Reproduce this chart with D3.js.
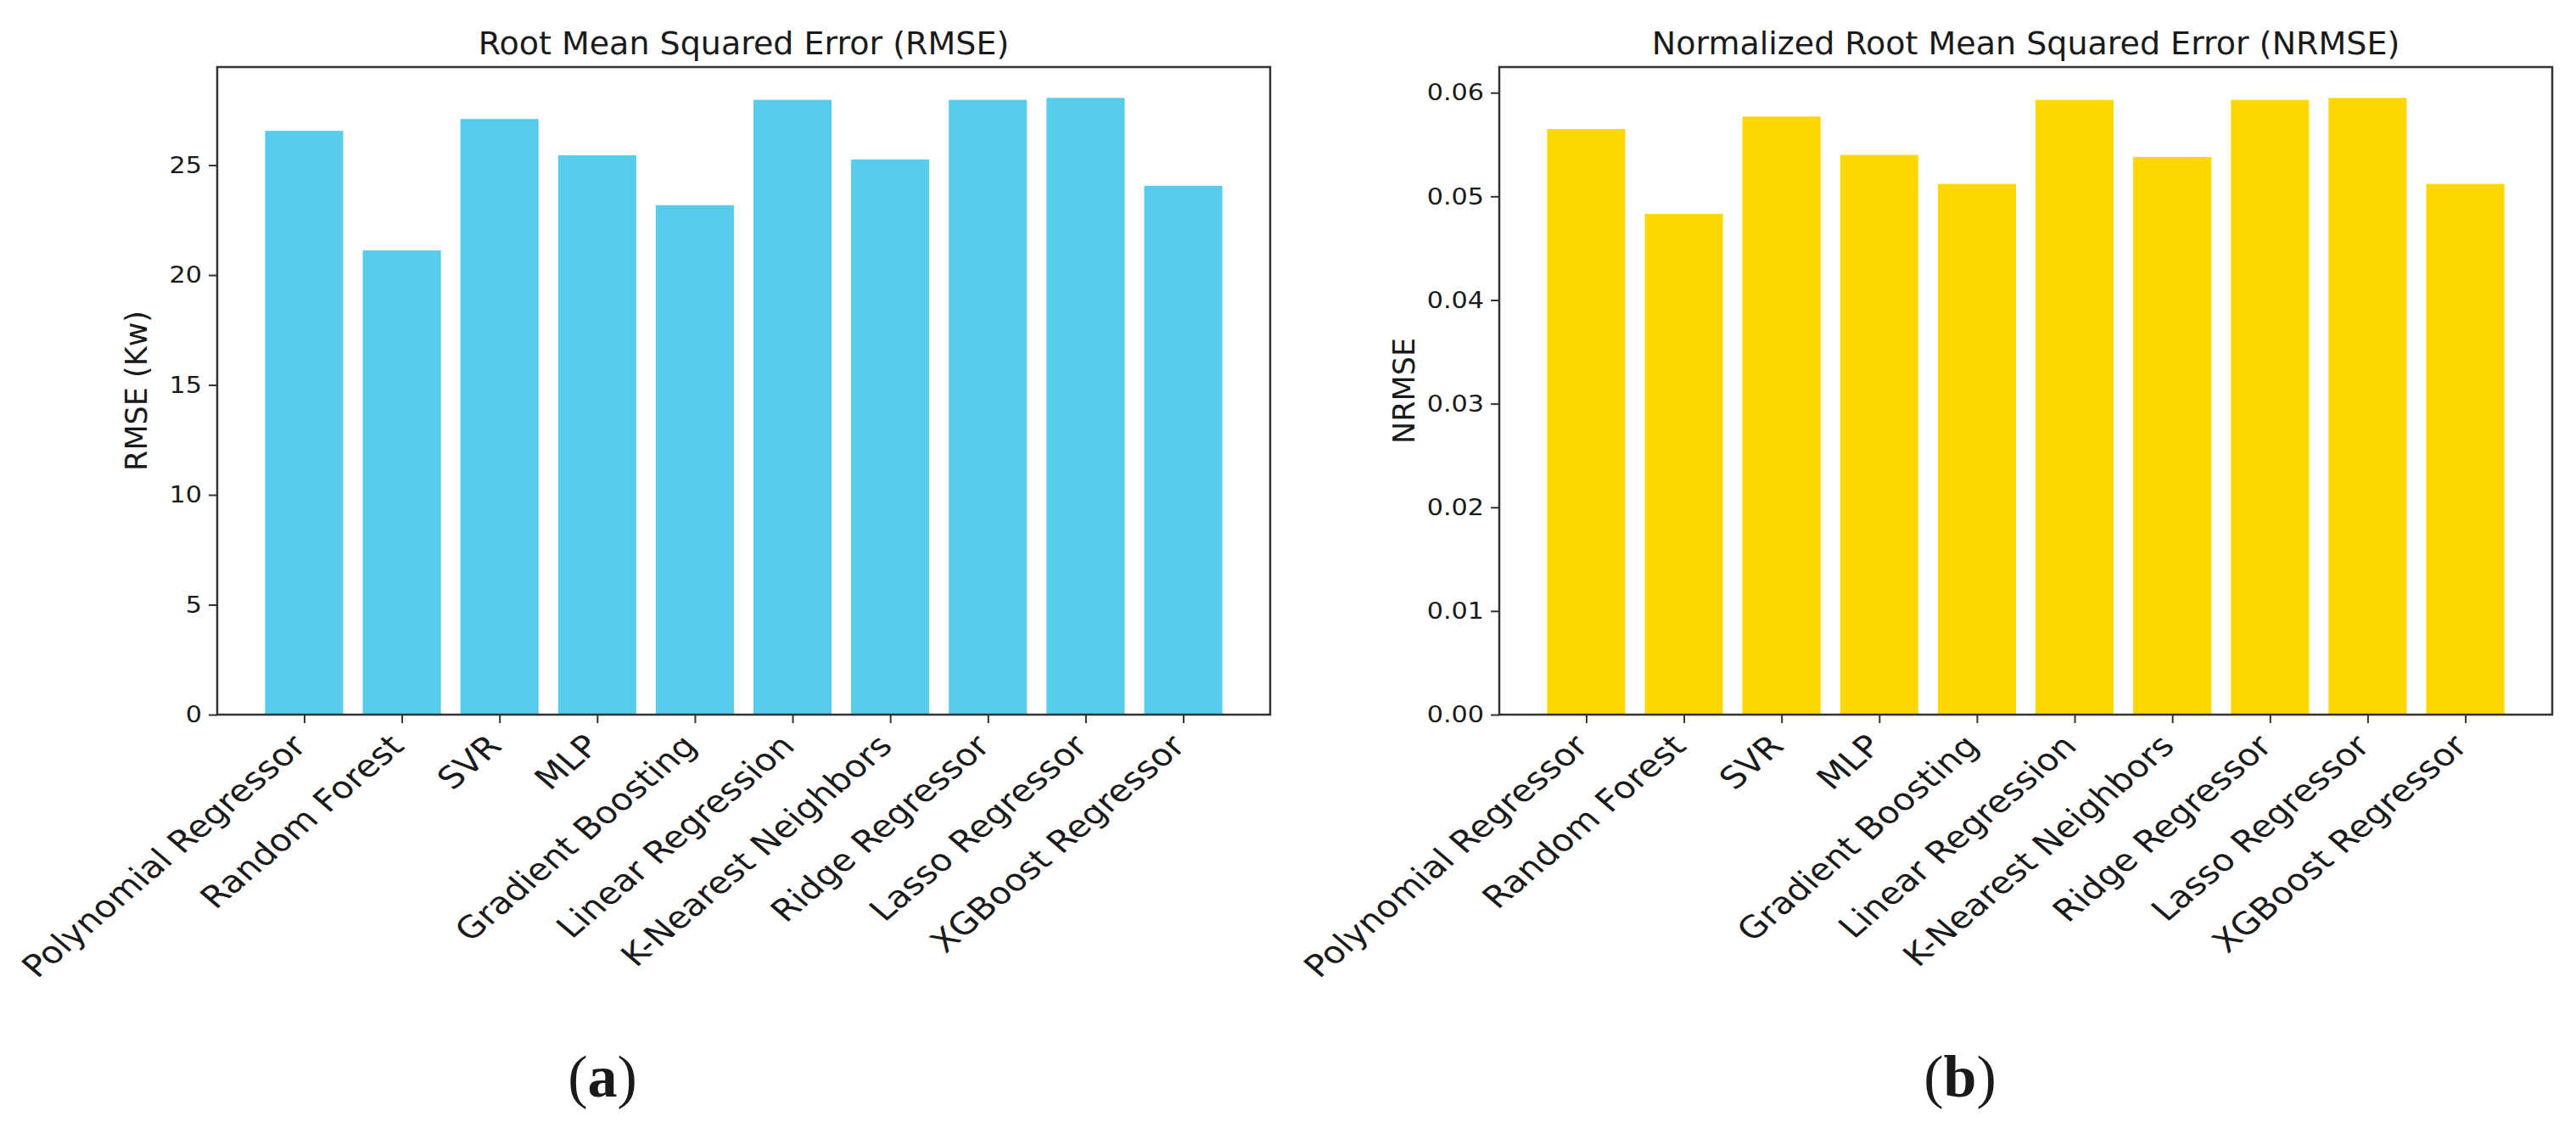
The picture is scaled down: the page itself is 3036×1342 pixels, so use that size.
<!DOCTYPE html>
<html>
<head>
<meta charset="utf-8">
<script src="https://cdn.jsdelivr.net/npm/d3@7"></script>
<style>
  html, body { margin: 0; padding: 0; background: #fff; }
  svg { display: block; }
  text { font-family: "DejaVu Sans", sans-serif; fill: #1a1a1a; }
</style>
</head>
<body>
<svg id="chart" width="3036" height="1342"></svg>
<script>
// ---- data ----
const categories = [
  "Polynomial Regressor", "Random Forest", "SVR", "MLP", "Gradient Boosting",
  "Linear Regression", "K-Nearest Neighbors", "Ridge Regressor", "Lasso Regressor", "XGBoost Regressor"
];
const rmseValues  = [26.56, 21.12, 27.10, 25.45, 23.18, 27.97, 25.26, 27.97, 28.06, 24.06];
const nrmseValues = [0.0565, 0.0483, 0.0577, 0.0540, 0.0512, 0.0593, 0.0538, 0.0593, 0.0595, 0.0512];
const rmseTicks  = [0, 5, 10, 15, 20, 25];
const nrmseTicks = [0, 0.01, 0.02, 0.03, 0.04, 0.05, 0.06];
const titles = ["Root Mean Squared Error (RMSE)", "Normalized Root Mean Squared Error (NRMSE)"];
const yLabels = ["RMSE (Kw)", "NRMSE"];
const panelTags = ["a", "b"];
const colors = ["#57CDEB", "#FFD700"];

const svg = d3.select("#chart");

const panels = [
  { values: rmseValues, ticks: rmseTicks, fmt: d3.format("d"), title: titles[0], ylab: yLabels[0], tag: panelTags[0], color: colors[0],
    left: 256, right: 1497, top: 79, bottom: 842, ylabX: 173, tagX: 710 },
  { values: nrmseValues, ticks: nrmseTicks, fmt: d3.format(".2f"), title: titles[1], ylab: yLabels[1], tag: panelTags[1], color: colors[1],
    left: 1767, right: 3008, top: 79, bottom: 842, ylabX: 1667, tagX: 2310 }
];

panels.forEach(p => {
  const n = categories.length;
  const x = d3.scaleLinear().domain([-0.89, n - 1 + 0.89]).range([p.left, p.right]);
  const y = d3.scaleLinear().domain([0, d3.max(p.values) * 1.05]).range([p.bottom, p.top]);
  const bw = x(0.8) - x(0);
  const g = svg.append("g");

  // bars
  g.selectAll("rect.bar").data(p.values).join("rect")
    .attr("class", "bar")
    .attr("x", (d, i) => x(i - 0.4))
    .attr("y", d => y(d))
    .attr("width", bw)
    .attr("height", d => y(0) - y(d))
    .attr("fill", p.color);

  // y axis
  const yAxis = d3.axisLeft(y).tickValues(p.ticks).tickFormat(p.fmt).tickSize(10).tickPadding(6);
  const ya = g.append("g").attr("transform", `translate(${p.left},0)`).call(yAxis);
  ya.select(".domain").remove();
  ya.selectAll(".tick line").attr("stroke", "#333").attr("stroke-width", 2);
  ya.selectAll(".tick text")
    .style("font-size", "27px").style("font-family", "DejaVu Sans").attr("fill", "#1a1a1a")
    .attr("transform", "scale(1.12,1)");

  // x axis
  const xAxis = d3.axisBottom(x).tickValues(d3.range(n)).tickFormat(i => categories[i]).tickSize(10).tickPadding(0);
  const xa = g.append("g").attr("transform", `translate(0,${p.bottom})`).call(xAxis);
  xa.select(".domain").remove();
  xa.selectAll(".tick line").attr("stroke", "#333").attr("stroke-width", 2);
  xa.selectAll(".tick text")
    .style("font-size", "36px").style("font-family", "DejaVu Sans").attr("fill", "#1a1a1a")
    .attr("text-anchor", "end")
    .attr("dy", null).attr("y", null)
    .attr("transform", "translate(4,39) scale(1.17,1) rotate(-45)");

  // frame
  g.append("rect")
    .attr("x", p.left).attr("y", p.top)
    .attr("width", p.right - p.left).attr("height", p.bottom - p.top)
    .attr("fill", "none").attr("stroke", "#333").attr("stroke-width", 2.5);

  // title
  g.append("text")
    .attr("transform", `translate(${(p.left + p.right) / 2},64)`)
    .attr("text-anchor", "middle")
    .style("font-size", "38px")
    .text(p.title);

  // y label
  g.append("text")
    .attr("transform", `translate(${p.ylabX},${(p.top + p.bottom) / 2}) rotate(-90)`)
    .attr("text-anchor", "middle")
    .style("font-size", "35px")
    .text(p.ylab);

  // panel tag (a)/(b)
  const t = g.append("text")
    .attr("x", p.tagX).attr("y", 1292)
    .attr("text-anchor", "middle")
    .style("font-family", "'Liberation Serif', 'DejaVu Serif', serif")
    .style("font-size", "70px")
    .attr("fill", "#000");
  t.append("tspan").text("(");
  t.append("tspan").style("font-weight", "bold").text(p.tag);
  t.append("tspan").text(")");
});
</script>
</body>
</html>
